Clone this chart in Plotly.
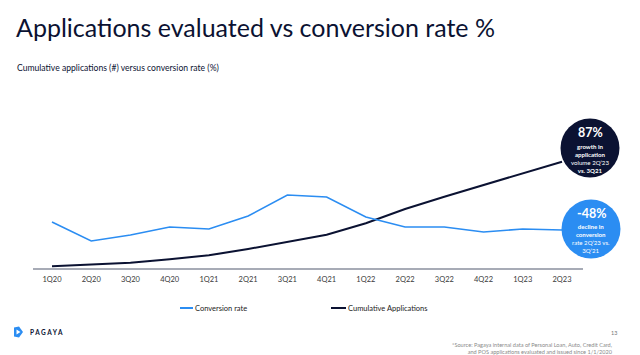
import plotly.graph_objects as go

# ---- data ----
quarters = ["1Q20", "2Q20", "3Q20", "4Q20", "1Q21", "2Q21", "3Q21", "4Q21",
            "1Q22", "2Q22", "3Q22", "4Q22", "1Q23", "2Q23"]
conversion_rate = [4.6, 2.7, 3.3, 4.1, 3.9, 5.2, 7.3, 7.1, 5.1, 4.1, 4.1, 3.6, 3.9, 3.8]
cumulative_apps = [1.7, 3.3, 5.3, 8.7, 12.7, 19.0, 26.0, 33.3, 44.7, 59.0, 71.3, 83.0, 94.0, 106.3]
series_names = ["Conversion rate", "Cumulative Applications"]

title_text = "Applications evaluated vs conversion rate %"
subtitle_text = "Cumulative applications (#) versus conversion rate (%)"
growth_head = "87%"
growth_lines = ["<b>growth in</b>", "<b>application</b>", "volume 2Q\u201923", "<b>vs. 3Q21</b>"]
decline_head = "-48%"
decline_lines = ["<b>decline in</b>", "<b>conversion</b>", "rate 2Q\u201923 vs.", "3Q\u201921"]
source_lines = ["*Source: Pagaya internal data of Personal Loan, Auto, Credit Card,",
                "and POS applications evaluated and issued since 1/1/2020"]

# ---- styles ----
BLUE = "#2b8df2"
NAVY = "#0b1232"
FONT = "Lato"
W, H = 640, 355
L, R, T, B = 33, 57, 140, 87
PW, PH = W - L - R, H - T - B


def px(xp):
    return (xp - L) / PW


def py(yp):
    return (H - B - yp) / PH


fig = go.Figure()
fig.add_trace(go.Scatter(x=quarters, y=conversion_rate, name=series_names[0], mode="lines",
                         line=dict(color=BLUE, width=1.6), yaxis="y2"))
fig.add_trace(go.Scatter(x=quarters, y=cumulative_apps, name=series_names[1], mode="lines",
                         line=dict(color=NAVY, width=2), yaxis="y"))

shapes = []
annotations = []

# title / subtitle
annotations.append(dict(text=title_text, x=px(14), y=py(26.5), xanchor="left", yanchor="middle",
                        font=dict(family=FONT, size=25, color=NAVY)))
annotations.append(dict(text=subtitle_text, x=px(15), y=py(67.5), xanchor="left", yanchor="middle",
                        font=dict(family=FONT, size=8.6, color=NAVY)))

# callout circles
for cx, cy, r, col, head, lines, yh, yb in [
    (590, 148, 29.5, NAVY, growth_head, growth_lines, 132.5, 158),
    (591, 229, 29.5, BLUE, decline_head, decline_lines, 213.5, 238),
]:
    shapes.append(dict(type="circle", xref="paper", yref="paper",
                       x0=px(cx - r), x1=px(cx + r), y0=py(cy + r), y1=py(cy - r),
                       fillcolor=col, line=dict(width=0), layer="above"))
    annotations.append(dict(text="<b>" + head + "</b>", x=px(cx), y=py(yh), xanchor="center",
                            yanchor="middle", font=dict(family=FONT, size=12.5, color="white")))
    annotations.append(dict(text="<br>".join(lines), x=px(cx), y=py(yb), xanchor="center",
                            yanchor="middle", align="center",
                            font=dict(family=FONT, size=6.1, color="white")))

# manual legend
for (x0, x1), col, name in [((180, 193), BLUE, series_names[0]), ((331, 346), NAVY, series_names[1])]:
    shapes.append(dict(type="line", xref="paper", yref="paper", x0=px(x0), x1=px(x1),
                       y0=py(308), y1=py(308), line=dict(color=col, width=2)))
    annotations.append(dict(text=name, x=px(x1), y=py(308), xanchor="left", yanchor="middle",
                            font=dict(family=FONT, size=7.5, color="#222222")))

# logo
logo_pts = [(14, 327.5), (19, 326.5), (23, 332), (19, 337.5), (14, 336.5)]
path = "M " + " L ".join(f"{px(a)},{py(b)}" for a, b in logo_pts) + " Z"
shapes.append(dict(type="path", xref="paper", yref="paper", path=path, fillcolor=BLUE, line=dict(width=0)))
tri = [(16.5, 329.5), (20.5, 332), (16.5, 334.5)]
path2 = "M " + " L ".join(f"{px(a)},{py(b)}" for a, b in tri) + " Z"
shapes.append(dict(type="path", xref="paper", yref="paper", path=path2, fillcolor="white", line=dict(width=0)))
annotations.append(dict(text="<b>P A G A Y A</b>", x=px(28), y=py(332), xanchor="left", yanchor="middle",
                        font=dict(family=FONT, size=6.5, color=NAVY)))

# footer
annotations.append(dict(text="13", x=px(619), y=py(333), xanchor="right", yanchor="middle",
                        font=dict(family=FONT, size=5.5, color="#777777")))
annotations.append(dict(text="<br>".join(source_lines), x=px(615), y=py(347.5), xanchor="right",
                        yanchor="middle", align="right",
                        font=dict(family=FONT, size=5.6, color="#8a8a8a")))

for a in annotations:
    a.update(xref="paper", yref="paper", showarrow=False)

fig.update_layout(
    width=W, height=H, margin=dict(l=L, r=R, t=T, b=B),
    paper_bgcolor="white", plot_bgcolor="white",
    showlegend=False,
    shapes=shapes, annotations=annotations,
    xaxis=dict(type="category", range=[-0.484, 13.535], showgrid=False, zeroline=False,
               showline=True, linecolor="#a7abb6", linewidth=1.5, ticks="", ticklabelstandoff=3,
               tickfont=dict(family=FONT, size=7.5, color="#3a3a3a")),
    yaxis=dict(range=[0, 128], visible=False, showgrid=False),
    yaxis2=dict(range=[0, 12.8], visible=False, overlaying="y", showgrid=False),
)

fig.write_html("out.html", config={"displayModeBar": False},
               post_script="document.body.style.margin='0';document.body.style.overflow='hidden';")
